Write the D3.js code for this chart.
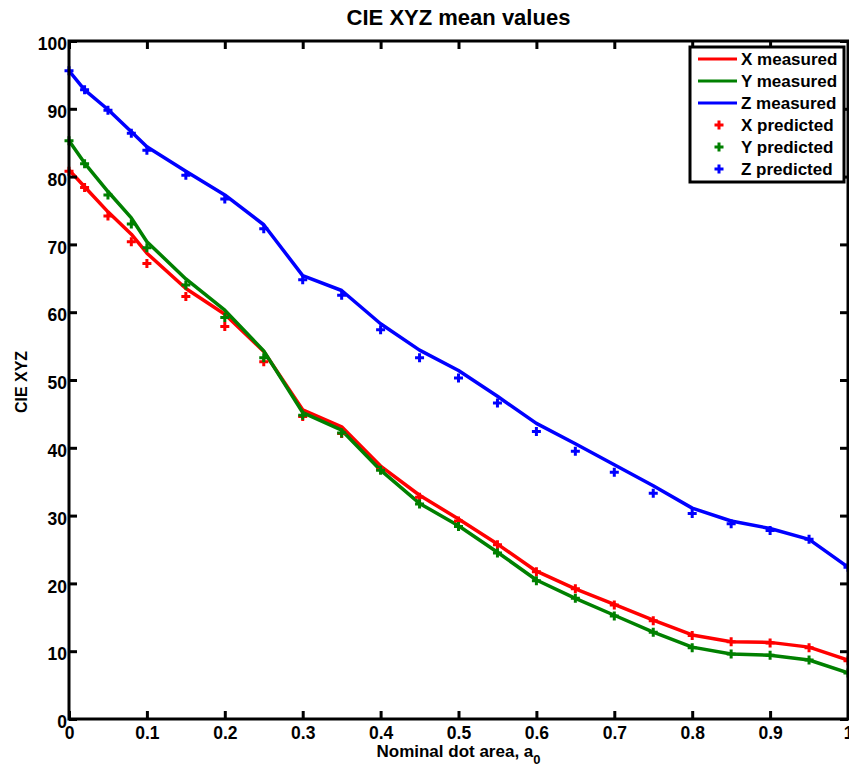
<!DOCTYPE html>
<html>
<head>
<meta charset="utf-8">
<script src="https://cdn.jsdelivr.net/npm/d3@7"></script>
<style>
  body { margin: 0; background: #fff; }
  text { font-family: "Liberation Sans", Arial, sans-serif; font-weight: bold; }
</style>
</head>
<body>
<script>
// data
var areas = [0, 0.02, 0.05, 0.08, 0.1, 0.15, 0.2, 0.25, 0.3, 0.35, 0.4, 0.45, 0.5,
             0.55, 0.6, 0.65, 0.7, 0.75, 0.8, 0.85, 0.9, 0.95, 1.0];

var xMeasured = [81.0, 78.5, 74.8, 71.5, 68.7, 63.5, 59.7, 54.2, 45.6, 43.1, 37.3, 33.0, 29.5,
                 25.8, 21.8, 19.2, 16.9, 14.6, 12.4, 11.4, 11.3, 10.6, 8.7];
var yMeasured = [85.3, 82.0, 77.8, 73.9, 70.4, 64.9, 60.3, 54.3, 45.2, 42.6, 36.7, 31.8, 28.5,
                 24.6, 20.5, 17.8, 15.3, 12.8, 10.6, 9.6, 9.4, 8.7, 6.8];
var zMeasured = [95.6, 92.8, 89.9, 86.6, 84.4, 80.8, 77.3, 72.9, 65.4, 63.2, 58.3, 54.4, 51.4,
                 47.6, 43.6, 40.6, 37.5, 34.4, 31.1, 29.2, 28.1, 26.5, 22.4];

var xPredicted = [80.8, 78.4, 74.2, 70.4, 67.2, 62.3, 57.9, 52.7, 44.6, 42.1, 36.8, 32.7, 29.2,
                  25.7, 21.7, 19.2, 16.8, 14.5, 12.3, 11.4, 11.2, 10.5, 8.6];
var yPredicted = [85.3, 81.9, 77.3, 73.0, 69.5, 64.0, 59.2, 53.3, 44.8, 42.2, 36.7, 31.7, 28.4,
                  24.5, 20.4, 17.8, 15.2, 12.8, 10.5, 9.6, 9.4, 8.7, 6.8];
var zPredicted = [95.6, 92.8, 89.8, 86.4, 83.9, 80.2, 76.7, 72.3, 64.8, 62.5, 57.4, 53.3, 50.3,
                  46.6, 42.4, 39.5, 36.4, 33.3, 30.3, 28.8, 27.8, 26.5, 22.4];

var xTicks = [0, 0.1, 0.2, 0.3, 0.4, 0.5, 0.6, 0.7, 0.8, 0.9, 1];
var yTicks = [0, 10, 20, 30, 40, 50, 60, 70, 80, 90, 100];

var lineSeries = [
  {name: "X measured", color: "#ff0000", values: xMeasured},
  {name: "Y measured", color: "#008000", values: yMeasured},
  {name: "Z measured", color: "#0000ff", values: zMeasured}
];
var pointSeries = [
  {name: "X predicted", color: "#ff0000", values: xPredicted},
  {name: "Y predicted", color: "#008000", values: yPredicted},
  {name: "Z predicted", color: "#0000ff", values: zPredicted}
];

var outerWidth = 849, outerHeight = 768;
var margin = {top: 41, right: 1, bottom: 49, left: 69},
    width = outerWidth - margin.left - margin.right,
    height = outerHeight - margin.top - margin.bottom;

var x = d3.scaleLinear().domain([0, 1]).range([0, width]);
var y = d3.scaleLinear().domain([0, 100]).range([height, 0]);

var svg = d3.select("body").append("svg")
    .attr("width", outerWidth)
    .attr("height", outerHeight);

var g = svg.append("g")
    .attr("transform", `translate(${margin.left},${margin.top})`);

g.append("clipPath").attr("id", "clip")
  .append("rect").attr("width", width).attr("height", height);

// lines
var line = d3.line()
    .x(function(d, i) { return x(areas[i]); })
    .y(function(d) { return y(d); });

var plot = g.append("g").attr("clip-path", "url(#clip)");

plot.selectAll(".measured")
    .data(lineSeries)
  .enter().append("path")
    .attr("class", "measured")
    .attr("fill", "none")
    .attr("stroke", function(d) { return d.color; })
    .attr("stroke-width", 3.5)
    .attr("stroke-linejoin", "round")
    .attr("d", function(d) { return line(d.values); });

// plus markers
var plus = "M-4.5,0H4.5M0,-4.5V4.5";
pointSeries.forEach(function(s) {
  g.append("g").selectAll("path")
      .data(s.values)
    .enter().append("path")
      .attr("transform", function(d, i) { return `translate(${x(areas[i])},${y(d)})`; })
      .attr("d", plus)
      .attr("stroke", s.color)
      .attr("stroke-width", 3);
});

// axes, ticks inward on all four sides
var tickLen = 8;
var bottomAxis = g.append("g")
    .attr("transform", `translate(0,${height})`)
    .call(d3.axisBottom(x).tickValues(xTicks).tickSize(-tickLen).tickPadding(8)
      .tickFormat(function(d) { return d === 0 || d === 1 ? d3.format("d")(d) : d3.format(".1f")(d); }));
var leftAxis = g.append("g")
    .call(d3.axisLeft(y).tickValues(yTicks).tickSize(-tickLen).tickPadding(2));
var topAxis = g.append("g")
    .call(d3.axisTop(x).tickValues(xTicks).tickSize(-tickLen).tickFormat(""));
var rightAxis = g.append("g")
    .attr("transform", `translate(${width},0)`)
    .call(d3.axisRight(y).tickValues(yTicks).tickSize(-tickLen).tickFormat(""));

[bottomAxis, leftAxis, topAxis, rightAxis].forEach(function(a) {
  a.select(".domain").remove();
  a.selectAll("line").attr("stroke", "#000").attr("stroke-width", 3);
  a.selectAll("text").attr("fill", "#000").style("font-size", "17.5px")
    .style("font-family", '"Liberation Sans", Arial, sans-serif').style("font-weight", "bold");
});
leftAxis.selectAll("text").attr("dy", "0.5em");

g.append("rect")
    .attr("width", width)
    .attr("height", height)
    .attr("fill", "none")
    .attr("stroke", "#000")
    .attr("stroke-width", 3);

// legend
var legend = g.append("g").attr("transform", `translate(${width - 158},6)`);
legend.append("rect")
    .attr("width", 154)
    .attr("height", 135)
    .attr("fill", "#fff")
    .attr("stroke", "#000")
    .attr("stroke-width", 3);

var legendRows = lineSeries.concat(pointSeries);
var rowH = 22;
legendRows.forEach(function(s, i) {
  var ry = 12 + i * rowH;
  if (i < 3) {
    legend.append("line")
        .attr("x1", 8).attr("x2", 47)
        .attr("y1", ry).attr("y2", ry)
        .attr("stroke", s.color).attr("stroke-width", 3);
  } else {
    legend.append("path")
        .attr("transform", `translate(29,${ry})`)
        .attr("d", plus)
        .attr("stroke", s.color).attr("stroke-width", 3);
  }
  legend.append("text")
      .attr("x", 51).attr("y", ry)
      .attr("dy", "0.36em")
      .style("font-size", "17px")
      .text(s.name);
});

// title and labels
svg.append("text")
    .attr("x", margin.left + width / 2)
    .attr("y", 25)
    .attr("text-anchor", "middle")
    .style("font-size", "22px")
    .text("CIE XYZ mean values");

svg.append("text")
    .attr("transform", `translate(27,${margin.top + height / 2 + 2}) rotate(-90)`)
    .attr("text-anchor", "middle")
    .style("font-size", "16px")
    .text("CIE XYZ");

var xl = svg.append("text")
    .attr("x", margin.left + width / 2)
    .attr("y", 757)
    .attr("text-anchor", "middle")
    .style("font-size", "17px");
xl.append("tspan").text("Nominal dot area, a");
xl.append("tspan").attr("dy", 7).style("font-size", "13px").text("0");
</script>
</body>
</html>
